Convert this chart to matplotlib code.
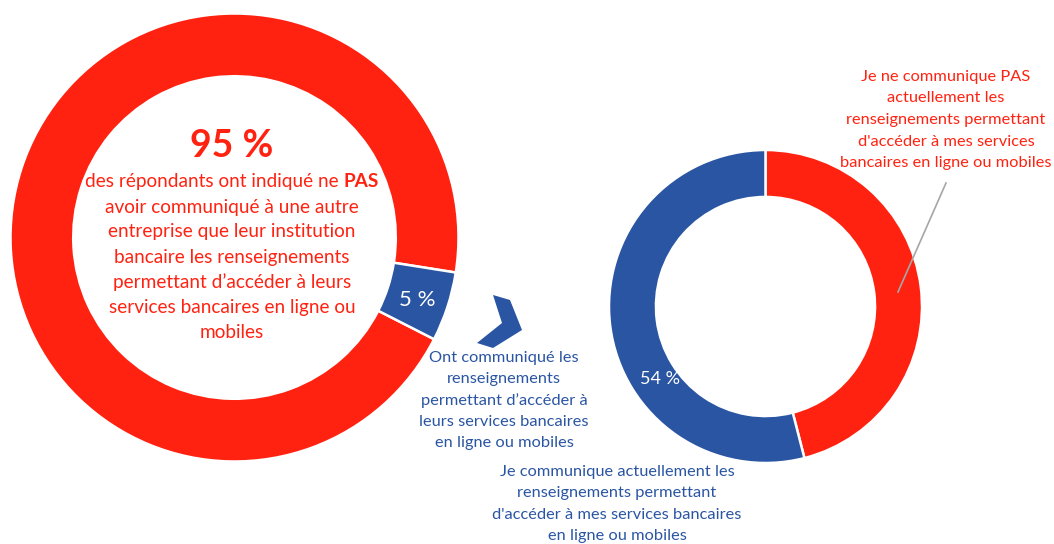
import matplotlib.pyplot as plt
from matplotlib.patches import Polygon

W, H = 1054, 544

# répartition : pas communiqué / communiqué
parts_left = [95, 5]
labels_left = ['95 %', '5 %']
# répartition actuelle : ne communique pas / communique
parts_right = [46, 54]
labels_right = ['46 %', '54 %']

center_lines = [
    "des répondants ont indiqué ne ",
    "avoir communiqué à une autre",
    "entreprise que leur institution",
    "bancaire les renseignements",
    "permettant d’accéder à leurs",
    "services bancaires en ligne ou",
    "mobiles",
]
blue_note = ["Ont communiqué les", "renseignements", "permettant d’accéder à",
             "leurs services bancaires", "en ligne ou mobiles"]
red_note = ["Je ne communique PAS", "actuellement les", "renseignements permettant",
            "d'accéder à mes services", "bancaires en ligne ou mobiles"]
bottom_note = ["Je communique actuellement les", "renseignements permettant",
               "d'accéder à mes services bancaires", "en ligne ou mobiles"]

red = '#FF2211'
blue = '#2A55A3'
grey = '#A6A6A6'

plt.rcParams['font.family'] = ['Lato', 'DejaVu Sans']

fig = plt.figure(figsize=(W / 100, H / 100), dpi=100)


def fp(x, y):
    # pixels (origine en haut à gauche) -> fraction de figure
    return x / W, 1 - y / H


def donut_axes(cx, cy, r):
    ax = fig.add_axes([(cx - r) / W, 1 - (cy + r) / H, 2 * r / W, 2 * r / H])
    ax.set_zorder(0)
    return ax


def text_block(lines, cx, y0, dy, color, size):
    for i, line in enumerate(lines):
        fig.text(*fp(cx, y0 + dy * i), line, color=color, fontsize=size,
                 ha='center', va='center')


# anneau de gauche
ax1 = donut_axes(234.5, 237.5, 224)
ax1.pie(parts_left, colors=[red, blue], startangle=-9, counterclock=True,
        wedgeprops=dict(width=0.28, edgecolor='white', linewidth=1.8))
ax1.set_xlim(-1, 1)
ax1.set_ylim(-1, 1)
ax1.axis('off')

# anneau de droite
ax2 = donut_axes(765.5, 306.5, 156.5)
ax2.pie(parts_right, colors=[red, blue], startangle=90, counterclock=False,
        wedgeprops=dict(width=0.30, edgecolor='white', linewidth=1.8))
ax2.set_xlim(-1, 1)
ax2.set_ylim(-1, 1)
ax2.axis('off')

# étiquettes des segments
fig.text(*fp(417, 300), labels_left[1], color='white', fontsize=16,
         ha='center', va='center')
fig.text(*fp(660, 379), labels_right[1], color='white', fontsize=13,
         ha='center', va='center')
fig.text(*fp(910, 404), labels_right[0], color='white', fontsize=13,
         ha='center', va='center')

# texte au centre de l'anneau de gauche
fig.text(*fp(232, 146), labels_left[0], color=red, fontsize=27,
         fontweight='bold', ha='center', va='center')

renderer = fig.canvas.get_renderer()
t1 = fig.text(0, 0, center_lines[0], color=red, fontsize=13.7, ha='left', va='center')
t2 = fig.text(0, 0, "PAS", color=red, fontsize=13.7, fontweight='bold',
              ha='left', va='center')
w1 = t1.get_window_extent(renderer).width
w2 = t2.get_window_extent(renderer).width
x0 = 232 - (w1 + w2) / 2
t1.set_position(fp(x0, 182))
t2.set_position(fp(x0 + w1, 182))
text_block(center_lines[1:], 232, 207, 25, red, 13.7)

# annotations
text_block(blue_note, 504, 358, 21.3, blue, 11.8)
text_block(red_note, 946, 77, 21.5, red, 11.8)
text_block(bottom_note, 617, 472, 21.3, blue, 11.8)

# trait de rappel vers le segment rouge
fig.add_artist(plt.Line2D([898 / W, 946 / W], [1 - 292 / H, 1 - 183 / H],
                          color=grey, linewidth=1.2))

# chevron
chevron = [(493, 295), (510, 300), (522, 330), (493, 348), (477, 343), (502, 323)]
fig.add_artist(Polygon([fp(x, y) for x, y in chevron], closed=True,
                       facecolor=blue, edgecolor='none',
                       transform=fig.transFigure))

fig.savefig('out.png', dpi=100)
